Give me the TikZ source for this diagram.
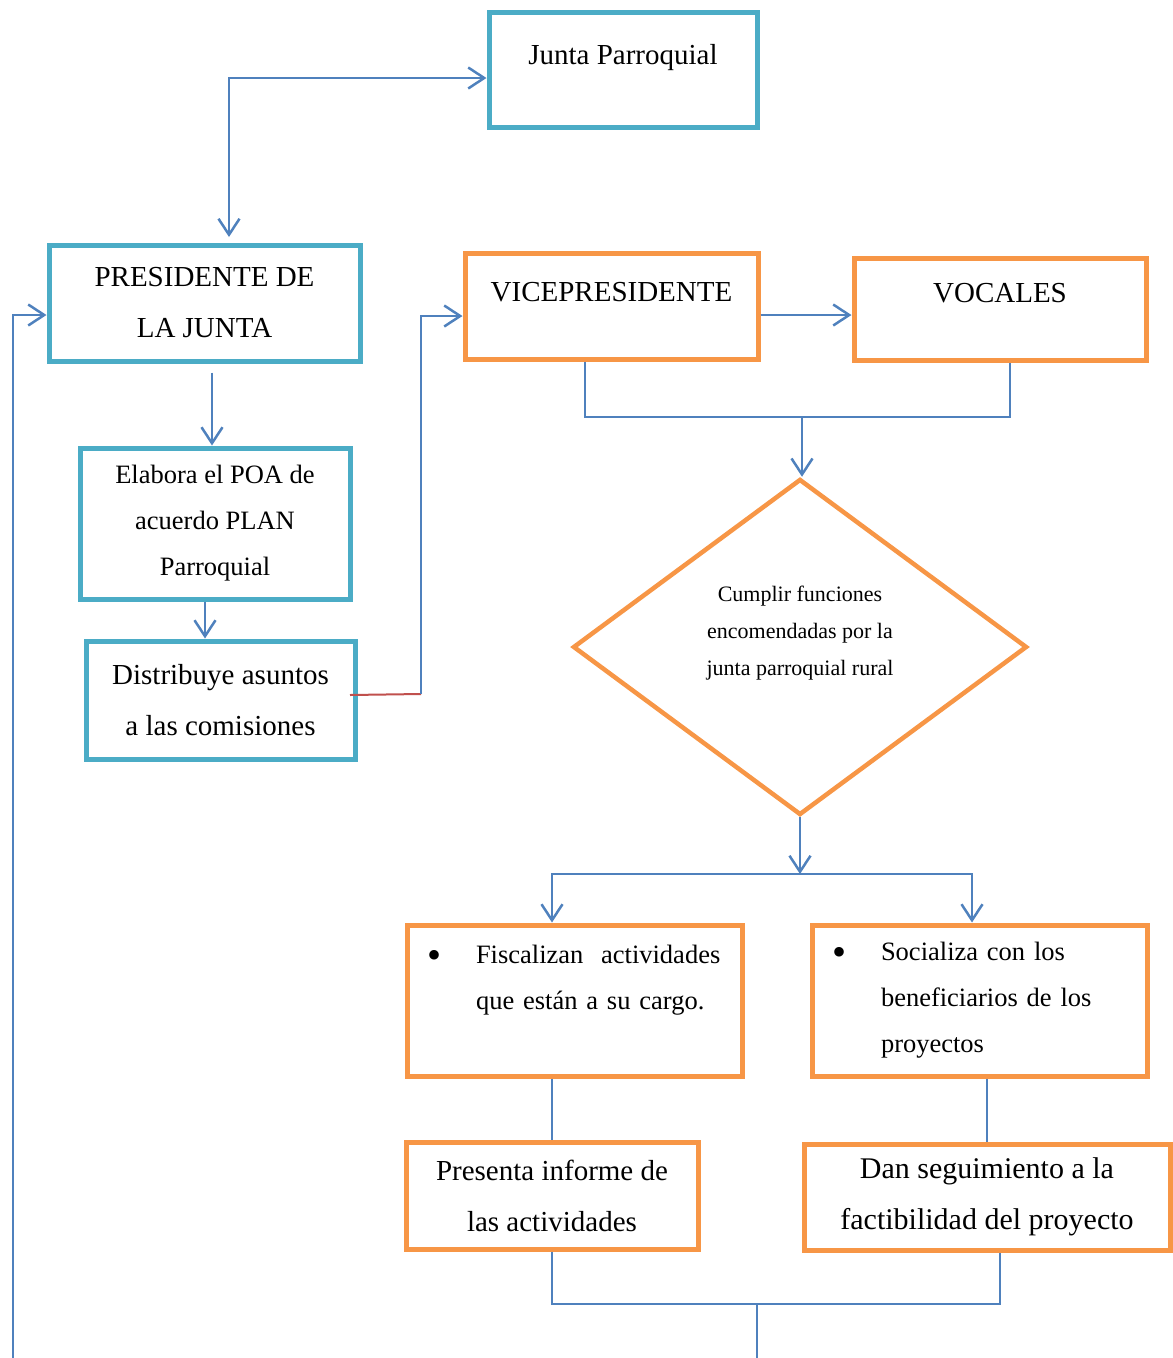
\documentclass[tikz,border=0pt]{standalone}
\usepackage{fontspec}
\setmainfont{Liberation Serif}
\usepackage{tikz}
\usetikzlibrary{shapes.geometric, arrows.meta}
\definecolor{jpteal}{RGB}{75, 172, 198}
\definecolor{jporange}{RGB}{247, 150, 70}
\definecolor{jpblue}{RGB}{79, 129, 189}
\definecolor{jpred}{RGB}{192, 80, 77}
\newcommand{\fontbig}{\fontsize{29}{51}\selectfont}
\newcommand{\fontmid}{\fontsize{26.5}{46}\selectfont}
\newcommand{\fontdia}{\fontsize{22}{37}\selectfont}
\newcommand{\fontdan}{\fontsize{30}{51}\selectfont}
\newcommand{\bulletitem}[1]{\makebox[69pt][l]{\hspace{20pt}\raisebox{-5pt}{\fontsize{40}{40}\selectfont\textbullet}}\parbox[t]{262pt}{#1}}
\tikzset{
    >={Straight Barb[length=16pt, width=21pt]},
    jpbox/.style={rectangle, draw, line width=5pt, align=center, inner sep=0pt},
    tealbox/.style={jpbox, draw=jpteal, font=\fontbig},
    orangebox/.style={jpbox, draw=jporange, font=\fontbig},
    bulletbox/.style={orangebox, font=\fontmid, text width=335pt, minimum width=335pt, align=left},
    decision/.style={diamond, draw=jporange, line width=4.5pt, minimum width=454pt, minimum height=336pt},
    diatext/.style={font=\fontdia, align=center},
    conn/.style={draw=jpblue, line width=2.5pt},
    arrow/.style={conn, ->},
    redline/.style={draw=jpred, line width=2pt}
}

\begin{document}
\begin{tikzpicture}[x=1pt, y=-1pt]
    \useasboundingbox (0, 0) rectangle (1173, 1358);

    % Left column
    \node[tealbox, minimum width=268pt, minimum height=115pt, text depth=30pt] (junta) at (623, 69.5) {Junta Parroquial};
    \node[tealbox, minimum width=311pt, minimum height=116pt] (pres) at (204.5, 303) {PRESIDENTE DE\\LA JUNTA};
    \node[tealbox, font=\fontmid, minimum width=270pt, minimum height=151pt] (elab) at (215, 523.5) {Elabora el POA de\\acuerdo PLAN\\Parroquial};
    \node[tealbox, minimum width=269pt, minimum height=118pt] (dist) at (220.5, 700) {Distribuye asuntos\\a las comisiones};

    % Right column
    \node[orangebox, minimum width=293pt, minimum height=106pt, text depth=28pt] (vice) at (611.5, 306) {VICEPRESIDENTE};
    \node[orangebox, minimum width=292pt, minimum height=102pt, text depth=32pt] (voc) at (1000, 309) {VOCALES};
    \node[decision] (dia) at (800, 647) {};
    \node[diatext] (diatxt) at ([yshift=14pt]dia.center) {Cumplir funciones\\encomendadas por la\\junta parroquial rural};
    \node[bulletbox, minimum height=151pt] (fisc) at (574.5, 1000.5) {\bulletitem{Fiscalizan\ \ actividades\\que están a su cargo.\\\mbox{}}};
    \node[bulletbox, minimum height=151pt] (soc) at (979.5, 1000.5) {\bulletitem{Socializa con los\\beneficiarios de los\\proyectos}};
    \node[orangebox, minimum width=292pt, minimum height=107pt] (informe) at (552, 1195.5) {Presenta informe de\\las actividades};
    \node[orangebox, font=\fontdan, minimum width=366pt, minimum height=106pt] (seguim) at (987, 1197) {Dan seguimiento a la\\factibilidad del proyecto};

    % Junction points
    \coordinate (bend) at (421, 694);
    \coordinate (join1) at (802, 417);
    \coordinate (split) at (800, 874);
    \coordinate (join2) at (757, 1304);
    \coordinate (exit) at (757, 1358);
    \coordinate (back) at (13, 1358);

    % Connectors
    \draw[conn, <->, shorten <=5.5pt] ([xshift=24.5pt]pres.north) |- ([yshift=-8.5pt]junta.west);
    \draw[arrow, shorten <=9pt] ([xshift=-3pt]elab.north |- pres.south) -- ([xshift=-3pt]elab.north);
    \draw[arrow] ([xshift=-10pt]elab.south) -- ([xshift=-10pt]elab.south |- dist.north);
    \draw[redline] ([xshift=-7.5pt, yshift=5pt]dist.east) -- (bend);
    \draw[arrow] (bend) |- ([yshift=-10pt]vice.west);
    \draw[arrow] ([yshift=-9pt]vice.east) -- ([yshift=-9pt]vice.east -| voc.west);
    \draw[conn] ([xshift=-26.5pt]vice.south) |- (join1) -| ([xshift=10pt]voc.south);
    \draw[arrow] (join1) -- (join1 |- dia.north);
    \draw[arrow] (dia.south) -- (split);
    \draw[arrow] (split) -| ([xshift=-22.5pt]fisc.north);
    \draw[arrow] (split) -| ([xshift=-7.5pt]soc.north);
    \draw[conn] (informe.north |- fisc.south) -- (informe.north);
    \draw[conn] (seguim.north |- soc.south) -- (seguim.north);
    \draw[conn] (informe.south) |- (join2) -| ([xshift=13pt]seguim.south);
    \draw[conn] (join2) -- (exit);
    \draw[arrow] (back) |- ([yshift=-12pt]pres.west);
\end{tikzpicture}
\end{document}
